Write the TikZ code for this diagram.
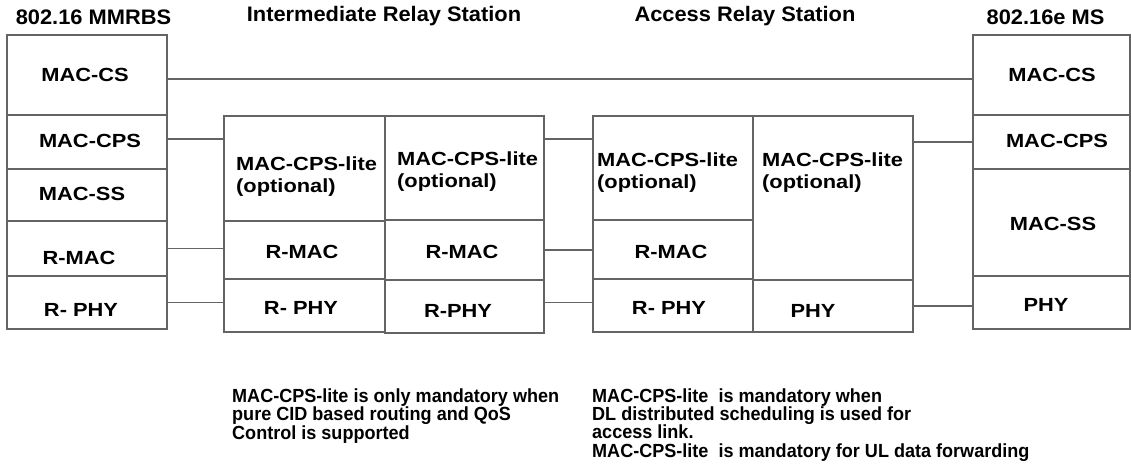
\documentclass[tikz,border=0pt]{standalone}
\usepackage{fontspec}
\setmainfont{Liberation Sans}
\newfontfamily\layerfont{Liberation Sans}[FakeStretch=1.15]
\newfontfamily\headfont{Liberation Sans}[FakeStretch=1.04]
\newfontfamily\remarkfont{Liberation Sans}[FakeStretch=0.95]
\definecolor{edgegray}{HTML}{646464}

\begin{document}
\begin{tikzpicture}[x=1pt,y=-1pt]
        \tikzstyle{layer} = [draw=edgegray,line width=1.7pt,inner sep=0pt,outer sep=0pt,anchor=north west]
        \tikzstyle{lbl} = [inner sep=0pt,font=\layerfont\bfseries\fontsize{19}{22}\selectfont]
        \tikzstyle{lite} = [lbl,anchor=west,align=left]
        \tikzstyle{head} = [inner sep=0pt,font=\headfont\bfseries\fontsize{21}{24}\selectfont]
        \tikzstyle{remark} = [inner sep=0pt,anchor=west,align=left,font=\remarkfont\bfseries\fontsize{19}{18.2}\selectfont]
        \tikzstyle{link} = [draw=edgegray,line width=1.7pt]

        \fill[white] (0,0) rectangle (1131,471);
        \useasboundingbox (0,0) rectangle (1131,471);

        % station titles
        \node[head] (tBS) at (93.5,17.5) {802.16 MMRBS};
        \node[head] (tIRS) at (384,16.5) {Intermediate Relay Station};
        \node[head] (tARS) at (745,16.5) {Access Relay Station};
        \node[head] (tMS) at (1045.5,17.5) {802.16e MS};

        % 802.16 MMRBS
        \node[layer,minimum width=160pt,minimum height=80pt] (bsCS) at (7,35) {};
        \node[layer,minimum width=160pt,minimum height=54pt] (bsCPS) at (7,115) {};
        \node[layer,minimum width=160pt,minimum height=52pt] (bsSS) at (7,169) {};
        \node[layer,minimum width=160pt,minimum height=55pt] (bsMAC) at (7,221) {};
        \node[layer,minimum width=160pt,minimum height=53pt] (bsPHY) at (7,276) {};
        \node[lbl] (bsCSl) at (85,75) {MAC-CS};
        \node[lbl] (bsCPSl) at (90,141) {MAC-CPS};
        \node[lbl] (bsSSl) at (82,194) {MAC-SS};
        \node[lbl] (bsMACl) at (79,258) {R-MAC};
        \node[lbl] (bsPHYl) at (81,310) {R- PHY};

        % intermediate relay station
        \node[layer,minimum width=161pt,minimum height=105pt] (irsAlite) at (224,116) {};
        \node[layer,minimum width=161pt,minimum height=58pt] (irsAmac) at (224,221) {};
        \node[layer,minimum width=161pt,minimum height=53pt] (irsAphy) at (224,279) {};
        \node[layer,minimum width=159pt,minimum height=104pt] (irsBlite) at (385,116) {};
        \node[layer,minimum width=159pt,minimum height=60pt] (irsBmac) at (385,220) {};
        \node[layer,minimum width=159pt,minimum height=53pt] (irsBphy) at (385,280) {};
        \node[lite] (irsAlitel) at (236,177) {MAC-CPS-lite\\(optional)};
        \node[lbl] (irsAmacl) at (302,252) {R-MAC};
        \node[lbl] (irsAphyl) at (301,308) {R- PHY};
        \node[lite] (irsBlitel) at (397,172) {MAC-CPS-lite\\(optional)};
        \node[lbl] (irsBmacl) at (462,252) {R-MAC};
        \node[lbl] (irsBphyl) at (458,311) {R-PHY};

        % access relay station
        \node[layer,minimum width=160pt,minimum height=104pt] (arsAlite) at (593,116) {};
        \node[layer,minimum width=160pt,minimum height=59pt] (arsAmac) at (593,220) {};
        \node[layer,minimum width=160pt,minimum height=53pt] (arsAphy) at (593,279) {};
        \node[layer,minimum width=160pt,minimum height=164pt] (arsBlite) at (753,116) {};
        \node[layer,minimum width=160pt,minimum height=52pt] (arsBphy) at (753,280) {};
        \node[lite] (arsAlitel) at (597,173) {MAC-CPS-lite\\(optional)};
        \node[lbl] (arsAmacl) at (671,252) {R-MAC};
        \node[lbl] (arsAphyl) at (669,308) {R- PHY};
        \node[lite] (arsBlitel) at (762,173) {MAC-CPS-lite\\(optional)};
        \node[lbl] (arsBphyl) at (813,311) {PHY};

        % 802.16e MS
        \node[layer,minimum width=157pt,minimum height=80pt] (msCS) at (973,35) {};
        \node[layer,minimum width=157pt,minimum height=54pt] (msCPS) at (973,115) {};
        \node[layer,minimum width=157pt,minimum height=107pt] (msSS) at (973,169) {};
        \node[layer,minimum width=157pt,minimum height=53pt] (msPHY) at (973,276) {};
        \node[lbl] (msCSl) at (1052,75) {MAC-CS};
        \node[lbl] (msCPSl) at (1057,141) {MAC-CPS};
        \node[lbl] (msSSl) at (1053,224) {MAC-SS};
        \node[lbl] (msPHYl) at (1046,305) {PHY};

        % peer links
        \draw[link] ([yshift=-4pt]bsCS.east) -- ([yshift=-4pt]msCS.west);
        \draw[link] ([yshift=3pt]bsCPS.east) -- ([yshift=3pt]bsCPS.east -| irsAlite.west);
        \draw[link] (bsMAC.east) -- (bsMAC.east -| irsAmac.west);
        \draw[link] (bsPHY.east) -- (bsPHY.east -| irsAphy.west);
        \draw[link] ([yshift=3pt]bsCPS.east -| irsBlite.east) -- ([yshift=3pt]bsCPS.east -| arsAlite.west);
        \draw[link] (irsBmac.east) -- (irsBmac.east -| arsAmac.west);
        \draw[link] (bsPHY.east -| irsBphy.east) -- (bsPHY.east -| arsAphy.west);
        \draw[link] (arsBlite.east |- msCPS.west) -- (msCPS.west);
        \draw[link] (arsBphy.east) -- (arsBphy.east -| msPHY.west);

        % remarks
        \node[remark] (noteIRS) at (232,416) {MAC-CPS-lite is only mandatory when\\pure CID based routing and QoS\\Control is supported};
        \node[remark] (noteARS) at (592,425) {MAC-CPS-lite\ \ is mandatory when\\DL distributed scheduling is used for\\access link.\\MAC-CPS-lite\ \ is mandatory for UL data forwarding};
\end{tikzpicture}
\end{document}
